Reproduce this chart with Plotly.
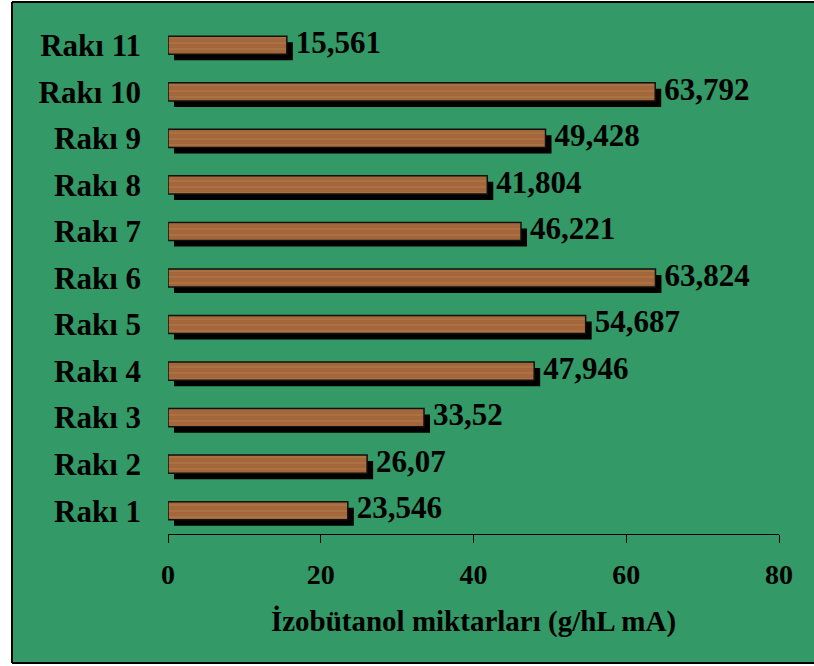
import plotly.graph_objects as go

categories = ["Rakı 1", "Rakı 2", "Rakı 3", "Rakı 4", "Rakı 5", "Rakı 6",
              "Rakı 7", "Rakı 8", "Rakı 9", "Rakı 10", "Rakı 11"]
values = [23.546, 26.07, 33.52, 47.946, 54.687, 63.824,
          46.221, 41.804, 49.428, 63.792, 15.561]
value_labels = [str(v).replace(".", ",") for v in values]
x_ticks = [0, 20, 40, 60, 80]
x_title = "İzobütanol miktarları (g/hL mA)"

W, H = 814, 666
ml, mr, mt, mb = 168, 35, 22, 132
pw, ph = W - ml - mr, H - mt - mb
xmax = 80
px_per_unit = pw / xmax
n = len(categories)
px_per_cat = ph / n

bar_w = 0.39
shadow_dx = 6 / px_per_unit      # data units
shadow_dy = 6 / px_per_cat       # category units
label_gap = 3 / px_per_unit

font_family = "Liberation Serif, Times New Roman, serif"
green = "#339966"


def px_x(p):
    return (p - ml) / pw


def px_y(p):
    return (H - mb - p) / ph


fig = go.Figure()

# shadow
fig.add_trace(go.Bar(
    y=categories, x=values, base=[shadow_dx] * n, orientation="h",
    width=bar_w, offset=-bar_w / 2 - shadow_dy,
    marker=dict(color="#000000", line=dict(width=0)),
    hoverinfo="skip", showlegend=False,
))
# main bar (wood)
fig.add_trace(go.Bar(
    y=categories, x=values, orientation="h",
    width=bar_w, offset=-bar_w / 2,
    marker=dict(color="#A5693C",
                line=dict(color="#111111", width=1.5),
                pattern=dict(shape="-", bgcolor="#A3673B", fgcolor="#B57E4D",
                             size=6, solidity=0.3, fillmode="overlay")),
    showlegend=False,
))
# value labels
fig.add_trace(go.Scatter(
    y=categories, x=[v + shadow_dx + label_gap for v in values], mode="text",
    text=value_labels, textposition="middle right",
    textfont=dict(family=font_family, size=31, color="#000000", weight="bold"),
    cliponaxis=False, showlegend=False, hoverinfo="skip",
))

border = dict(color="#000000", width=2)
fig.update_layout(
    width=W, height=H,
    margin=dict(l=ml, r=mr, t=mt, b=mb),
    paper_bgcolor=green, plot_bgcolor="rgba(0,0,0,0)",
    barmode="overlay",
    font=dict(family=font_family, color="#000000", weight="bold"),
    shapes=[
        # white strips outside the green frame
        dict(type="rect", xref="paper", yref="paper", layer="below",
             x0=px_x(-20), x1=px_x(12), y0=px_y(H + 20), y1=px_y(-20),
             fillcolor="white", line=dict(width=0)),
        dict(type="rect", xref="paper", yref="paper", layer="below",
             x0=px_x(-20), x1=px_x(W + 20), y0=px_y(H + 20), y1=px_y(663),
             fillcolor="white", line=dict(width=0)),
        dict(type="rect", xref="paper", yref="paper", layer="below",
             x0=px_x(-20), x1=px_x(W + 20), y0=px_y(2), y1=px_y(-20),
             fillcolor="white", line=dict(width=0)),
        dict(type="line", xref="paper", yref="paper", layer="below",
             x0=px_x(12), x1=px_x(12), y0=px_y(663), y1=px_y(2), line=border),
        dict(type="line", xref="paper", yref="paper", layer="below",
             x0=px_x(12), x1=px_x(W + 20), y0=px_y(2), y1=px_y(2), line=border),
        dict(type="line", xref="paper", yref="paper", layer="below",
             x0=px_x(12), x1=px_x(W + 20), y0=px_y(663), y1=px_y(663), line=border),
    ],
)
fig.update_xaxes(range=[0, xmax], tickvals=x_ticks, ticktext=[str(t) for t in x_ticks],
                 showgrid=False, zeroline=False, showline=True, linecolor="#000000",
                 linewidth=1, ticks="outside", ticklen=8, tickcolor="#000000",
                 tickfont=dict(size=28, family=font_family, color="#000000", weight="bold"),
                 ticklabelstandoff=7,
                 title=dict(text=x_title, standoff=22,
                            font=dict(size=29, family=font_family, color="#000000",
                                      weight="bold")))
fig.update_yaxes(type="category", categoryorder="array", categoryarray=categories,
                 range=[-0.5, n - 0.5],
                 showgrid=False, zeroline=False, showline=False, ticks="",
                 tickfont=dict(size=31, family=font_family, color="#000000", weight="bold"),
                 ticklabelstandoff=26)

fig.write_html("out.html", config={"displayModeBar": False},
               post_script="document.body.style.margin='0';document.body.style.overflow='hidden';")
